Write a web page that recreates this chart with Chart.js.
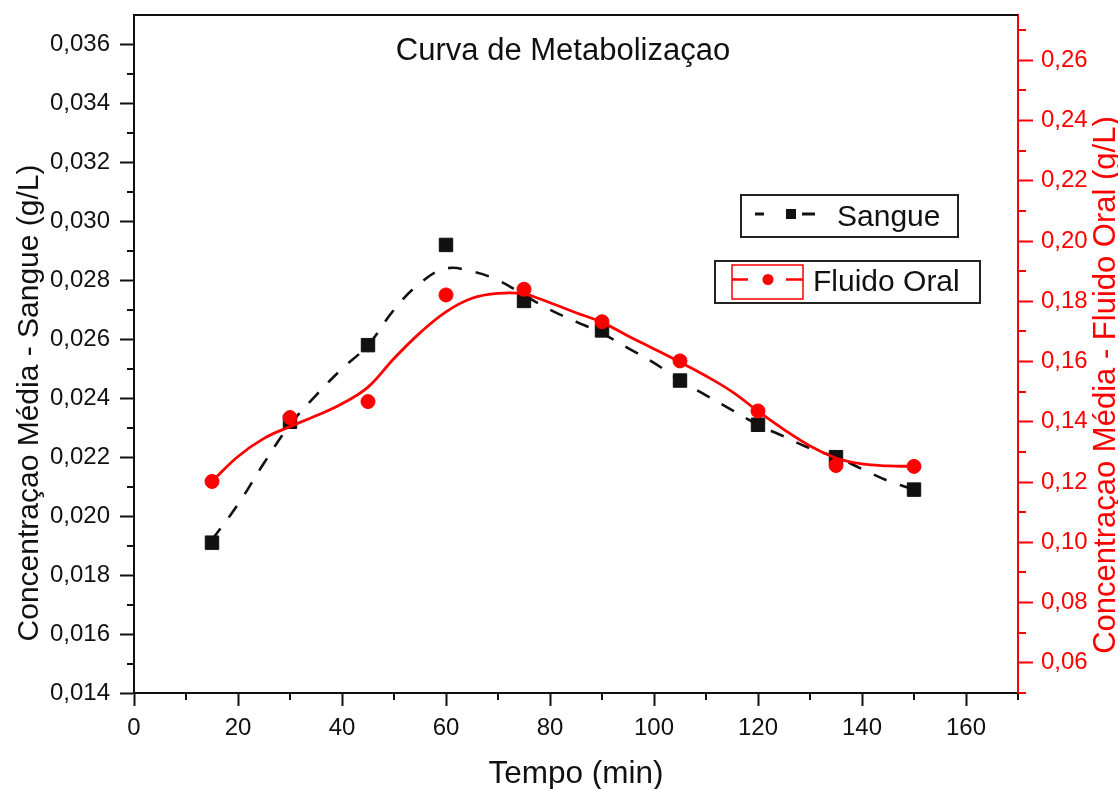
<!DOCTYPE html>
<html><head><meta charset="utf-8">
<script src="https://cdn.jsdelivr.net/npm/chart.js@4.4.0/dist/chart.umd.min.js"></script>
<style>html,body{margin:0;padding:0;background:#fff;overflow:hidden}#wrap{width:1118px;height:789px;position:relative}</style>
</head><body><div id="wrap"><canvas id="c" width="1118" height="789"></canvas></div>
<script>
// ---- data ----
const tempo = [15, 30, 45, 60, 75, 90, 105, 120, 135, 150];
const sangue = [0.0191, 0.0232, 0.0258, 0.0292, 0.0273, 0.0263, 0.0246, 0.0231, 0.0220, 0.0209];
const fluidoOral = [0.1202, 0.1414, 0.1467, 0.1821, 0.1840, 0.1732, 0.1602, 0.1436, 0.1255, 0.1252];
// smoothed curves
const curveTempo = [15, 20, 25, 30, 35, 40, 45, 50, 55, 60, 65, 70, 75, 80, 85, 90, 95, 100, 105, 110, 115, 120, 125, 130, 135, 140, 145, 150];
const sangueCurve = [0.0192, 0.0204, 0.0218, 0.0231, 0.0241, 0.0250, 0.0258, 0.0270, 0.0279, 0.0284, 0.0283, 0.0280, 0.0275, 0.0270, 0.0266, 0.0262, 0.0257, 0.0252, 0.0246, 0.0241, 0.0236, 0.0231, 0.0227, 0.0223, 0.0220, 0.0216, 0.0212, 0.0209];
const fluidoOralCurve = [0.1202, 0.1285, 0.1345, 0.1384, 0.1420, 0.1460, 0.1515, 0.1610, 0.1695, 0.1765, 0.1810, 0.1826, 0.1824, 0.1795, 0.1762, 0.1730, 0.1685, 0.1642, 0.1598, 0.1552, 0.1500, 0.1435, 0.1374, 0.1320, 0.1280, 0.1260, 0.1254, 0.1252];
const xTicks = [0, 20, 40, 60, 80, 100, 120, 140, 160];
const xMinorTicks = [10, 30, 50, 70, 90, 110, 130, 150, 170];
const yLeftTicks = [0.014, 0.016, 0.018, 0.020, 0.022, 0.024, 0.026, 0.028, 0.030, 0.032, 0.034, 0.036];
const yLeftMinorTicks = [0.015, 0.017, 0.019, 0.021, 0.023, 0.025, 0.027, 0.029, 0.031, 0.033, 0.035];
const yRightTicks = [0.06, 0.08, 0.10, 0.12, 0.14, 0.16, 0.18, 0.20, 0.22, 0.24, 0.26];
const yRightMinorTicks = [0.05, 0.07, 0.09, 0.11, 0.13, 0.15, 0.17, 0.19, 0.21, 0.23, 0.25, 0.27];
const titleText = 'Curva de Metabolizaçao';
const xTitle = 'Tempo (min)';
const yLeftTitle = 'Concentraçao Média - Sangue (g/L)';
const yRightTitle = 'Concentraçao Média - Fluido Oral (g/L)';
const labelSangue = 'Sangue';
const labelOral = 'Fluido Oral';

const FONT = 'Arial, "Liberation Sans", sans-serif';
const RED = '#ff0000';
const INK = '#111111';

const pts = (xs, ys) => xs.map((x, i) => ({x: x, y: ys[i]}));

const decor = {
  id: 'decor',
  afterDraw(chart) {
    const ctx = chart.ctx, ca = chart.chartArea;
    const sx = chart.scales.x, yl = chart.scales.y, yr = chart.scales.y2;
    ctx.save();
    // top frame
    ctx.strokeStyle = INK; ctx.lineWidth = 2;
    ctx.beginPath(); ctx.moveTo(ca.left - 1, ca.top); ctx.lineTo(ca.right, ca.top); ctx.stroke();
    // minor ticks
    ctx.lineWidth = 2;
    ctx.strokeStyle = INK;
    xMinorTicks.forEach(v => { const p = Math.round(sx.getPixelForValue(v)); ctx.beginPath(); ctx.moveTo(p, ca.bottom); ctx.lineTo(p, ca.bottom + 7); ctx.stroke(); });
    yLeftMinorTicks.forEach(v => { const p = Math.round(yl.getPixelForValue(v)); ctx.beginPath(); ctx.moveTo(ca.left, p); ctx.lineTo(ca.left - 7, p); ctx.stroke(); });
    ctx.strokeStyle = RED;
    yRightMinorTicks.forEach(v => { const p = Math.round(yr.getPixelForValue(v)); ctx.beginPath(); ctx.moveTo(ca.right, p); ctx.lineTo(ca.right + 8, p); ctx.stroke(); });

    // title
    ctx.fillStyle = INK;
    ctx.font = '31px ' + FONT;
    ctx.textAlign = 'center'; ctx.textBaseline = 'alphabetic';
    ctx.fillText(titleText, ca.left + 429, ca.top + 45);
    // x title
    ctx.font = '31.5px ' + FONT;
    ctx.fillText(xTitle, (ca.left + ca.right) / 2, ca.bottom + 90);
    // left title
    ctx.font = '30px ' + FONT;
    ctx.save();
    ctx.translate(38, ca.top + 388); ctx.rotate(-Math.PI / 2);
    ctx.fillText(yLeftTitle, 0, 0);
    ctx.restore();
    // right title
    ctx.save();
    ctx.fillStyle = RED;
    ctx.font = '31px ' + FONT;
    ctx.translate(ca.right + 97, ca.top + 370); ctx.rotate(-Math.PI / 2);
    ctx.fillText(yRightTitle, 0, 0);
    ctx.restore();

    // legend box 1 (Sangue)
    const L = ca.left, T = ca.top;
    ctx.lineWidth = 2; ctx.strokeStyle = '#222';
    ctx.strokeRect(L + 607, T + 180, 217, 42);
    ctx.strokeStyle = INK; ctx.lineWidth = 3;
    ctx.beginPath(); ctx.moveTo(L + 621, T + 199); ctx.lineTo(L + 630, T + 199); ctx.stroke();
    ctx.beginPath(); ctx.moveTo(L + 668, T + 199); ctx.lineTo(L + 681, T + 199); ctx.stroke();
    ctx.fillStyle = INK; ctx.fillRect(L + 652, T + 194, 10, 10);
    ctx.font = '30px ' + FONT; ctx.textAlign = 'left';
    ctx.fillText(labelSangue, L + 703, T + 211);

    // legend box 2 (Fluido Oral)
    ctx.lineWidth = 2; ctx.strokeStyle = '#222';
    ctx.strokeRect(L + 581, T + 246, 265, 42);
    ctx.strokeStyle = RED; ctx.lineWidth = 1.5;
    ctx.strokeRect(L + 598, T + 250, 71, 34);
    ctx.lineWidth = 2.5;
    ctx.beginPath(); ctx.moveTo(L + 598, T + 264.5); ctx.lineTo(L + 614, T + 264.5); ctx.stroke();
    ctx.beginPath(); ctx.moveTo(L + 652, T + 264.5); ctx.lineTo(L + 669, T + 264.5); ctx.stroke();
    ctx.fillStyle = RED; ctx.beginPath(); ctx.arc(L + 634, T + 264.5, 5.5, 0, Math.PI * 2); ctx.fill();
    ctx.fillStyle = INK;
    ctx.fillText(labelOral, L + 679, T + 276);
    ctx.restore();
  }
};

const tickFont = {family: FONT, size: 24};
const fitV = w => s => { s.width = w; s.paddingTop = 0; s.paddingBottom = 0; };

new Chart(document.getElementById('c'), {
  type: 'scatter',
  data: {
    datasets: [
      {label: labelOral + ' pts', data: pts(tempo, fluidoOral), yAxisID: 'y2', order: 1,
       pointStyle: 'circle', pointRadius: 7, pointBackgroundColor: RED, pointBorderColor: RED, pointBorderWidth: 1, showLine: false},
      {label: labelOral, data: pts(curveTempo, fluidoOralCurve), yAxisID: 'y2', order: 2,
       showLine: true, borderColor: RED, borderWidth: 2.8, pointRadius: 0, tension: 0.4, fill: false},
      {label: labelSangue + ' pts', data: pts(tempo, sangue), yAxisID: 'y', order: 3,
       pointStyle: 'rect', pointRadius: 9.5, pointBackgroundColor: INK, pointBorderColor: INK, pointBorderWidth: 1, showLine: false},
      {label: labelSangue, data: pts(curveTempo, sangueCurve), yAxisID: 'y', order: 4,
       showLine: true, borderColor: INK, borderWidth: 2.6, borderDash: [14, 14], pointRadius: 0, tension: 0.4, fill: false}
    ]
  },
  options: {
    responsive: false, devicePixelRatio: 1, animation: false,
    layout: {padding: {top: 15, left: 0, right: 0, bottom: 0}},
    plugins: {legend: {display: false}, tooltip: {enabled: false}, title: {display: false}},
    scales: {
      x: {
        type: 'linear', position: 'bottom', min: 0, max: 170,
        afterBuildTicks: s => { s.ticks = xTicks.map(v => ({value: v})); },
        afterFit: s => { s.height = 96; s.paddingLeft = 0; s.paddingRight = 0; },
        ticks: {font: tickFont, color: INK, padding: 8, maxRotation: 0, autoSkip: false, callback: v => String(v)},
        grid: {drawOnChartArea: false, drawTicks: true, tickLength: 13, tickColor: INK, tickWidth: 2},
        border: {display: true, color: INK, width: 2}
      },
      y: {
        type: 'linear', position: 'left', min: 0.014, max: 0.037,
        afterBuildTicks: s => { s.ticks = yLeftTicks.map(v => ({value: v})); },
        afterFit: fitV(134),
        ticks: {font: tickFont, color: INK, padding: 10, autoSkip: false, callback: v => v.toFixed(3).replace('.', ',')},
        grid: {drawOnChartArea: false, drawTicks: true, tickLength: 14, tickColor: INK, tickWidth: 2},
        border: {display: true, color: INK, width: 2}
      },
      y2: {
        type: 'linear', position: 'right', min: 0.05, max: 0.275,
        afterBuildTicks: s => { s.ticks = yRightTicks.map(v => ({value: v})); },
        afterFit: fitV(100),
        ticks: {font: tickFont, color: RED, padding: 8, autoSkip: false, callback: v => v.toFixed(2).replace('.', ',')},
        grid: {drawOnChartArea: false, drawTicks: true, tickLength: 15, tickColor: RED, tickWidth: 2},
        border: {display: true, color: RED, width: 2}
      }
    }
  },
  plugins: [decor]
});
</script>
</body></html>
